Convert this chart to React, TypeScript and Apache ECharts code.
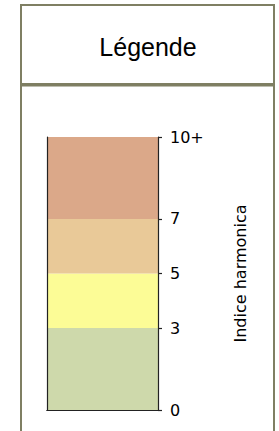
import React, { useEffect, useRef } from "react";
import * as echarts from "echarts";

const title = "Légende";
const axisName = "Indice harmonica";
const breaks = [0, 3, 5, 7, 10];
const tickValues = [0, 3, 5, 7, 10];
const tickLabels = ["0", "3", "5", "7", "10+"];
const bandColors = ["#ced9ab", "#fcfc96", "#e9c998", "#dba889"];

export default function App() {
  const ref = useRef<HTMLDivElement>(null);
  useEffect(() => {
    if (!ref.current) return;
    const chart = echarts.init(ref.current, undefined, { renderer: "svg" });
    const frame = "#7f7f63";
    const series = bandColors.map((c, i) => ({
      type: "bar",
      stack: "cb",
      xAxisIndex: 0,
      yAxisIndex: 0,
      barWidth: "100%",
      data: [breaks[i + 1] - breaks[i]],
      itemStyle: { color: c },
      silent: true,
    }));
    chart.setOption({
      animation: false,
      grid: { left: 47, right: 121, top: 137, bottom: 21 },
      graphic: [
        {
          type: "rect",
          shape: { x: 21, y: 5, width: 253, height: 79 },
          style: { fill: "none", stroke: frame, lineWidth: 2 },
        },
        {
          type: "rect",
          shape: { x: 21, y: 85.5, width: 253, height: 400 },
          style: { fill: "none", stroke: frame, lineWidth: 2 },
        },
        {
          type: "text",
          x: 148,
          y: 47,
          style: {
            text: title,
            fill: "#000",
            font: "25px 'Liberation Sans', Arial, sans-serif",
            textAlign: "center",
            textVerticalAlign: "middle",
          },
        },
      ],
      xAxis: [
        {
          type: "category",
          data: [""],
          position: "bottom",
          z: 10,
          axisLine: { show: true, lineStyle: { color: "#222", width: 1.2 } },
          axisTick: { show: false },
          axisLabel: { show: false },
          splitLine: { show: false },
        },
        {
          type: "category",
          data: [""],
          position: "top",
          z: 10,
          axisLine: { show: true, lineStyle: { color: "#222", width: 1.2 } },
          axisTick: { show: false },
          axisLabel: { show: false },
          splitLine: { show: false },
        },
      ],
      yAxis: [
        {
          type: "value",
          min: 0,
          max: 10,
          position: "right",
          z: 10,
          axisLine: { show: true, lineStyle: { color: "#222", width: 1.2 } },
          axisTick: {
            show: true,
            inside: false,
            length: 4,
            customValues: tickValues,
            lineStyle: { color: "#222", width: 1.2 },
          },
          axisLabel: {
            show: true,
            margin: 12,
            customValues: tickValues,
            formatter: (v: number) => tickLabels[tickValues.indexOf(v)] ?? String(v),
            color: "#000",
            fontFamily: "DejaVu Sans",
            fontSize: 16,
          },
          splitLine: { show: false },
          name: axisName,
          nameLocation: "middle",
          nameGap: 74,
          nameRotate: 90,
          nameTextStyle: { color: "#000", fontFamily: "DejaVu Sans", fontSize: 16 },
        },
        {
          type: "value",
          min: 0,
          max: 10,
          position: "left",
          z: 10,
          axisLine: { show: true, lineStyle: { color: "#222", width: 1.2 } },
          axisTick: { show: false },
          axisLabel: { show: false },
          splitLine: { show: false },
        },
      ],
      series,
    });
    return () => chart.dispose();
  }, []);
  return (
    <div
      ref={ref}
      style={{ position: "absolute", left: 0, top: 0, width: 279, height: 431, background: "#fff" }}
    />
  );
}
